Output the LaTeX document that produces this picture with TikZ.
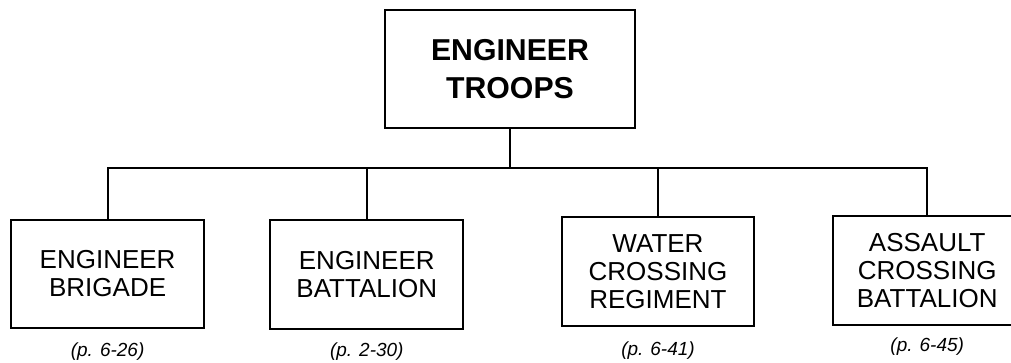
\documentclass[tikz,border=0pt]{standalone}
\usepackage{fontspec}
\setmainfont{Liberation Sans}
\usepackage{tikz}
\usetikzlibrary{positioning}

\begin{document}
\begin{tikzpicture}[
  topbox/.style={rectangle, draw=black, line width=1.3pt, minimum width=6.27cm, minimum height=2.95cm, align=center, inner sep=0pt,
    font=\fontsize{21.5}{26.5}\selectfont\bfseries},
  unitbox/.style={rectangle, draw=black, line width=1.3pt, minimum width=4.82cm, minimum height=2.72cm, align=center, inner sep=0pt,
    font=\fontsize{18.5}{19.9}\selectfont},
  pagelbl/.style={inner sep=0pt, font=\fontsize{13.5}{15}\selectfont\itshape},
  link/.style={line width=1.3pt, line cap=rect}
]
\useasboundingbox (0,0) rectangle (25.275,-9.05);

% Level 0 (root)
\node[topbox] (troops) at (12.75,-1.725) {ENGINEER\\TROOPS};
\coordinate (bar) at (12.75,-4.2);

% Level 1: 4 units
\node[unitbox] (brig) at (2.69,-6.85) {ENGINEER\\BRIGADE};
\node[unitbox] (batt) at (9.17,-6.86) {ENGINEER\\BATTALION};
\node[unitbox] (water) at (16.45,-6.78) {WATER\\CROSSING\\REGIMENT};
\node[unitbox, minimum width=4.7cm] (assault) at (23.18,-6.76) {ASSAULT\\CROSSING\\BATTALION};

\draw[link] (troops.south) -- (bar);
\draw[link] (brig.north) |- (bar); \draw[link] (batt.north) |- (bar);
\draw[link] (water.north) |- (bar); \draw[link] (assault.north) |- (bar);

% Page references
\node[pagelbl, below=0.33cm of brig] (brigp) {(p. 6-26)};
\node[pagelbl, below=0.33cm of batt] (battp) {(p. 2-30)};
\node[pagelbl, below=0.38cm of water] (waterp) {(p. 6-41)};
\node[pagelbl, below=0.3cm of assault] (assaultp) {(p. 6-45)};
\end{tikzpicture}
\end{document}
